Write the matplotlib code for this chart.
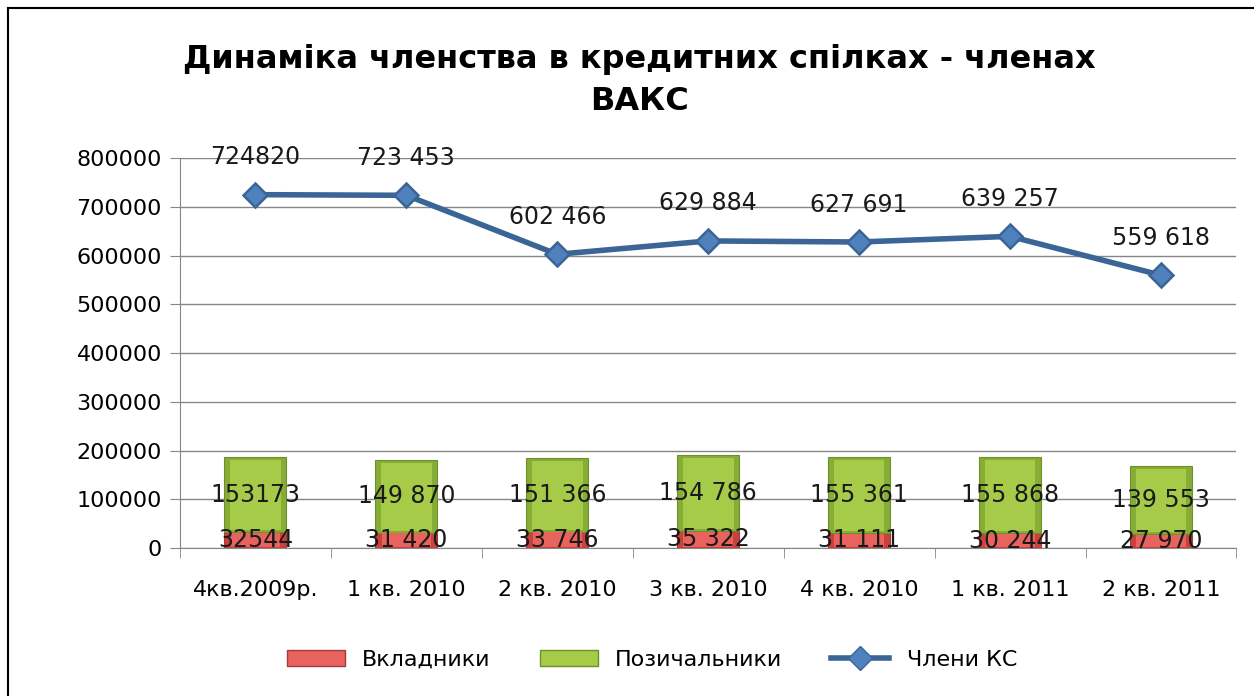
import matplotlib.pyplot as plt
from matplotlib.lines import Line2D
from matplotlib.patches import Patch
import numpy as np

# дані з діаграми
categories = ['4кв.2009р.', '1 кв. 2010', '2 кв. 2010', '3 кв. 2010',
              '4 кв. 2010', '1 кв. 2011', '2 кв. 2011']
vkladnyky = [32544, 31420, 33746, 35322, 31111, 30244, 27970]
pozychalnyky = [153173, 149870, 151366, 154786, 155361, 155868, 139553]
chleny = [724820, 723453, 602466, 629884, 627691, 639257, 559618]

vkl_labels = ['32544', '31 420', '33 746', '35 322', '31 111', '30 244', '27 970']
poz_labels = ['153173', '149 870', '151 366', '154 786', '155 361', '155 868', '139 553']
chl_labels = ['724820', '723 453', '602 466', '629 884', '627 691', '639 257', '559 618']

fig = plt.figure(figsize=(12.54, 6.96), dpi=100)
ax = fig.add_axes([0.1435, 0.2126, 0.8425, 0.5604])

x = np.arange(len(categories))
vkl = np.array(vkladnyky)
poz = np.array(pozychalnyky)
w = 0.41
red_dark, red_light = '#C9403C', '#E8625E'
green_dark, green_light = '#86AD35', '#A5CB48'

# основні стовпці + світліша середина (імітація фаски)
ax.bar(x, vkl, w, color=red_dark, edgecolor='#A33B38', linewidth=0.8, zorder=3)
ax.bar(x, poz, w, bottom=vkl, color=green_dark, edgecolor='#6F8F2C',
       linewidth=0.8, zorder=3)
ax.bar(x, vkl - 3000, w * 0.8, bottom=1500, color=red_light, linewidth=0, zorder=3)
ax.bar(x, poz - 10000, w * 0.82, bottom=vkl + 4000, color=green_light,
       linewidth=0, zorder=3)

ax.plot(x, chleny, color='#3A6596', linewidth=4, marker='D', markersize=12,
        markerfacecolor='#4F81BD', markeredgecolor='#3A6596', markeredgewidth=1.8,
        zorder=4)

lab_font = dict(fontsize=17, color='#1a1a1a', ha='center', va='center', zorder=5)
for i in range(len(categories)):
    ax.text(x[i], vkl[i] / 2, vkl_labels[i], **lab_font)
    ax.text(x[i], vkl[i] + poz[i] / 2, poz_labels[i], **lab_font)
    ax.annotate(chl_labels[i], (x[i], chleny[i]), xytext=(0, 27),
                textcoords='offset points', fontsize=17, color='#1a1a1a',
                ha='center', va='center', zorder=5)

ax.set_xlim(-0.5, len(categories) - 0.5)
ax.set_ylim(0, 800000)
ax.set_yticks(np.arange(0, 800001, 100000))
ax.set_yticklabels([str(v) for v in range(0, 800001, 100000)], fontsize=16)
ax.set_xticks(x)
ax.set_xticklabels(categories, fontsize=16)
ax.set_xticks(np.arange(-0.5, len(categories)), minor=True)
ax.tick_params(axis='x', which='major', length=0, pad=23)
ax.tick_params(axis='x', which='minor', length=7, color='#868686')
ax.tick_params(axis='y', length=7, color='#868686', pad=6)
ax.yaxis.grid(True, color='#868686', linewidth=1, zorder=0)
ax.set_axisbelow(True)
for s in ['top', 'right']:
    ax.spines[s].set_visible(False)
ax.spines['left'].set_color('#868686')
ax.spines['bottom'].set_color('#868686')

fig.suptitle('Динаміка членства в кредитних спілках - членах\nВАКС',
             x=0.51, y=0.937, fontsize=23, fontweight='bold', linespacing=1.45)

handles = [Patch(facecolor=red_light, edgecolor='#A33B38'),
           Patch(facecolor=green_light, edgecolor='#6F8F2C'),
           Line2D([], [], color='#3A6596', linewidth=4, marker='D', markersize=12,
                  markerfacecolor='#4F81BD', markeredgecolor='#3A6596')]
fig.legend(handles, ['Вкладники', 'Позичальники', 'Члени КС'], loc='center',
           bbox_to_anchor=(0.52, 0.052), ncol=3, frameon=False, fontsize=16,
           handlelength=2.6, handleheight=0.7, columnspacing=2.2)

# рамка
fig.add_artist(Line2D([8 / 1254, 1], [1 - 8 / 696, 1 - 8 / 696], color='black', linewidth=1.5))
fig.add_artist(Line2D([8 / 1254, 8 / 1254], [0, 1 - 8 / 696], color='black', linewidth=1.5))

fig.savefig('out.png', dpi=100)
